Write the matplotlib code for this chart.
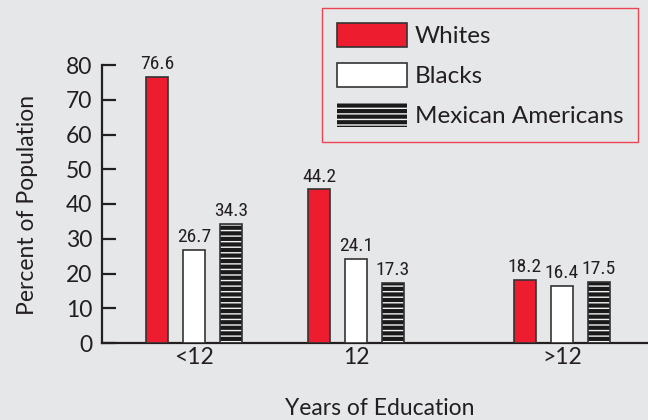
import matplotlib
matplotlib.use("Agg")
import matplotlib.pyplot as plt
from matplotlib import font_manager

names = {f.name for f in font_manager.fontManager.ttflist}
main = [f for f in ["Lato", "Noto Sans", "DejaVu Sans"] if f in names] or ["DejaVu Sans"]
cond = [f for f in ["Roboto Condensed", "Liberation Sans Narrow", "DejaVu Sans Condensed"] if f in names] + main
plt.rcParams['font.family'] = main

categories = ["<12", "12", ">12"]
series = ["Whites", "Blacks", "Mexican Americans"]
whites = [76.6, 44.2, 18.2]
blacks = [26.7, 24.1, 16.4]
mexican = [34.3, 17.3, 17.5]
yticks = [0, 10, 20, 30, 40, 50, 60, 70, 80]

# layout (not data)
group_x = [0.0, 1.0, 2.27]
offset = 0.228
width = 0.136

BG = "#e6e7e9"
RED = "#ed1c2e"
EDGE = "#333333"
TXT = "#231f20"

fig = plt.figure(figsize=(6.48, 4.2), dpi=100, facecolor=BG)
ax = fig.add_axes([102/648, 1-343/420, 1-102/648, (343-65)/420])
ax.set_facecolor(BG)

plt.rcParams['hatch.linewidth'] = 1.0

vals = [whites, blacks, mexican]
handles = []
for i, (name, v) in enumerate(zip(series, vals)):
    xs = [g + (i-1)*offset for g in group_x]
    if i == 0:
        b = ax.bar(xs, v, width, color=RED, edgecolor=EDGE, linewidth=1.2, label=name, zorder=3)
    elif i == 1:
        b = ax.bar(xs, v, width, color="white", edgecolor=EDGE, linewidth=1.2, label=name, zorder=3)
    else:
        b = ax.bar(xs, v, width, color="#1a1a1a", edgecolor="#f2f2f2", hatch="---", linewidth=0, label=name, zorder=3)
        ax.bar(xs, v, width, color="none", edgecolor=EDGE, linewidth=1.2, zorder=4)
    handles.append(b)
    for x, y in zip(xs, v):
        ax.text(x, y + 1.1, f"{y}", ha="center", va="bottom", fontsize=14,
                color=TXT, family=cond)

ax.set_xlim(-0.568, 2.802)
ax.set_ylim(0, 80)
ax.set_yticks(yticks)
ax.set_xticks(group_x)
ax.set_xticklabels(categories)
for s in ["top", "right"]:
    ax.spines[s].set_visible(False)
for s in ["left", "bottom"]:
    ax.spines[s].set_linewidth(1.6)
    ax.spines[s].set_color(TXT)
ax.spines["left"].set_bounds(0, 80)
ax.tick_params(axis="y", direction="in", length=10, width=1.6, color=TXT, labelsize=16.5, pad=7, labelcolor=TXT)
ax.tick_params(axis="x", length=0, labelsize=16.5, pad=3, labelcolor=TXT)
ax.set_ylabel("Percent of Population", fontsize=16.5, color=TXT)
ax.set_xlabel("Years of Education", fontsize=16.5, color=TXT)
ax.xaxis.set_label_coords(0.509, -0.234)
ax.xaxis.label.set_va("center")
ax.yaxis.set_label_coords(-0.137, 0.496)
ax.yaxis.label.set_va("center")

leg = ax.legend(handles=handles, labels=series, loc="upper right",
                bbox_to_anchor=(638/648, 1-8/420), bbox_transform=fig.transFigure,
                fontsize=17.5, handlelength=2.88, handleheight=1.15, labelspacing=0.65,
                handletextpad=0.33, borderpad=0.6, borderaxespad=0, fancybox=False, frameon=True)
leg.get_frame().set_edgecolor(RED)
leg.get_frame().set_facecolor(BG)
leg.get_frame().set_linewidth(1.0)
for t in leg.get_texts():
    t.set_color(TXT)

fig.savefig("out.png", dpi=100, facecolor=BG)
